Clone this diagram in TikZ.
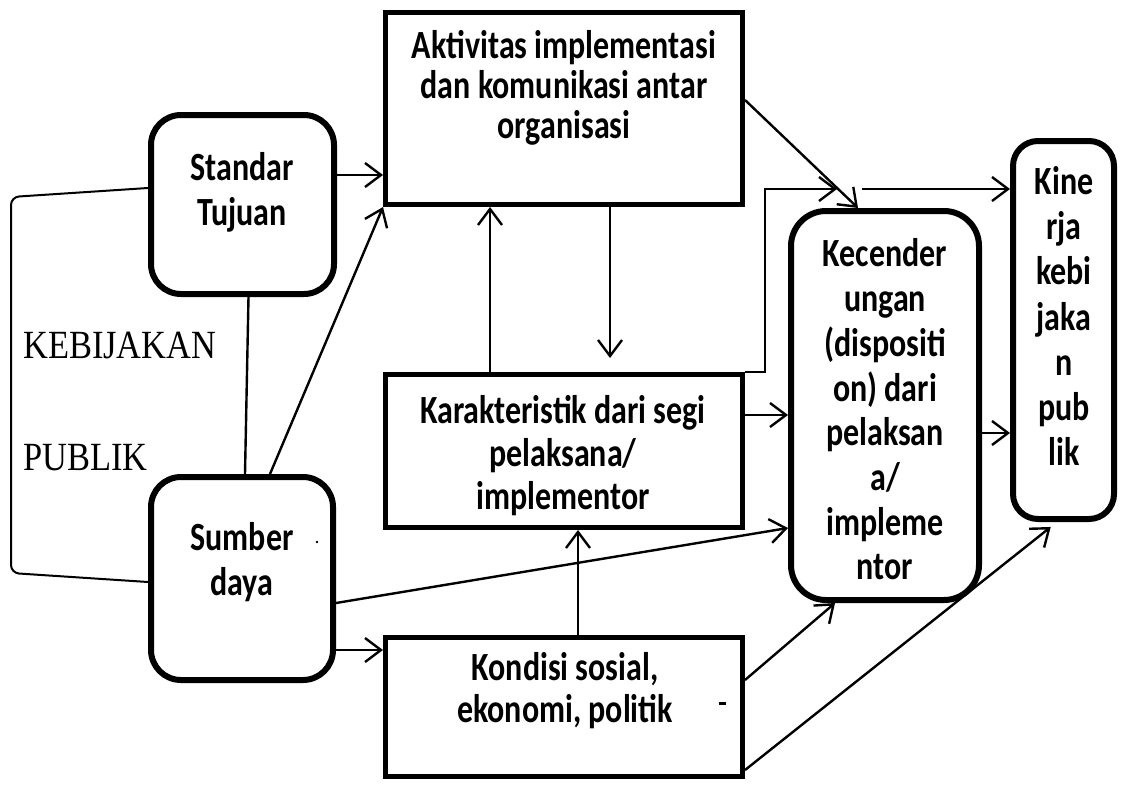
\documentclass[tikz,border=0pt]{standalone}
\usepackage{fontspec}
\setmainfont{Carlito}[FakeStretch=0.8]
\newfontfamily\kebfont{Liberation Serif}[FakeStretch=0.86]
\usetikzlibrary{arrows.meta,calc}
\begin{document}
\begin{tikzpicture}[x=1pt,y=-1pt,
  rbox/.style={draw, line width=5pt, inner sep=0pt},
  rndbox/.style={draw, line width=6pt, rounded corners=30pt, inner sep=0pt},
  lbl/.style={align=center, inner sep=0pt, font=\bfseries\fontsize{40}{45}\selectfont},
  arr/.style={line width=2.4pt, -{Straight Barb[length=16pt,width=24pt]}},
  conn/.style={line width=2.4pt},
  brk/.style={line width=2pt, rounded corners=8pt}]
\useasboundingbox (0,0) rectangle (1121,784);

% boxes
\node[rbox, minimum width=357pt, minimum height=192pt] (akt) at (564,108.5) {};
\node[rndbox, minimum width=183pt, minimum height=179pt] (std) at (242.5,204.5) {};
\node[rndbox, minimum width=182pt, minimum height=203pt] (sum) at (242,578.5) {};
\node[rbox, minimum width=357pt, minimum height=153pt] (kar) at (564,451) {};
\node[rbox, minimum width=357pt, minimum height=139pt] (kon) at (564,707) {};
\node[rndbox, rounded corners=35pt, minimum width=188pt, minimum height=389pt] (kec) at (885,405.5) {};
\node[rndbox, rounded corners=25pt, minimum width=101pt, minimum height=378pt] (kin) at (1063.5,330) {};

% texts
\node[lbl, font=\bfseries\fontsize{40}{40}\selectfont] (akttxt) at (564,88) {Aktivitas implementasi\\dan komunikasi antar\\organisasi};
\node[lbl] (stdtxt) at (242,192) {Standar\\Tujuan};
\node[lbl] (sumtxt) at (242,562) {Sumber\\daya};
\node[lbl, font=\bfseries\fontsize{40}{43}\selectfont] (kartxt) at (563,456) {Karakteristik dari segi\\pelaksana/\\implementor};
\node[lbl, font=\bfseries\fontsize{40}{42}\selectfont] (kontxt) at (565,691) {Kondisi sosial,\\ekonomi, politik};
\node[lbl, font=\bfseries\fontsize{40}{44.7}\selectfont] (kectxt) at (885,409.5) {Kecender\\ungan\\(dispositi\\on) dari\\pelaksan\\a/\\impleme\\ntor};
\node[lbl, font=\bfseries\fontsize{40}{45.3}\selectfont] (kintxt) at (1064,316) {Kine\\rja\\kebi\\jaka\\n\\pub\\lik};
\node[inner sep=0pt, anchor=west, font=\kebfont\fontsize{40}{40}\selectfont] (keb) at (23,345) {KEBIJAKAN};
\node[inner sep=0pt, anchor=west, font=\kebfont\fontsize{40}{40}\selectfont] (pub) at (23,458) {PUBLIK};

% stray marks
\fill (317,542) circle (1.3pt);
\fill (719,702) rectangle (726,705);

% helper coordinates
\coordinate (s1) at ([yshift=29.5pt]std.east);
\coordinate (k1) at ([xshift=-74pt]kar.north);
\coordinate (a1) at ([xshift=46pt]akt.south);
\coordinate (n1) at ([xshift=14pt]kon.north);
\coordinate (r1) at ([yshift=36pt]kar.east);
\coordinate (e1) at ([yshift=-27.5pt]kec.east);
\coordinate (m1) at ([yshift=-71.5pt]sum.east);
\coordinate (t1) at (837,189);
\coordinate (t2) at (862,189);

% connectors
\draw[arr] (s1) -- (s1 -| akt.west);
\draw[arr] ([xshift=28pt]sum.north) -- (akt.south west);
\draw[conn] ([xshift=6pt]std.south) -- ([xshift=3pt]sum.north);
\draw[brk] ([yshift=16.5pt]std.west) -- (11,197) -- (11,573) -- ([yshift=-3.5pt]sum.west);
\draw[arr] (k1) -- (k1 |- akt.south);
\draw[arr, shorten >=14pt] (a1) -- (a1 |- kar.north);
\draw[arr] (n1) -- (n1 |- kar.south);
\draw[arr] (r1) -- (r1 -| kec.west);
\draw[arr] (kar.north east) -- ++(20,0) |- (t1);
\draw[arr] ([yshift=8.5pt]akt.east) -- ([xshift=-27pt]kec.north);
\draw[arr] (t2) -- (t2 -| kin.west);
\draw[arr] (e1) -- (e1 -| kin.west);
\draw[arr] ([yshift=-24.5pt]sum.east) -- ([yshift=-122.5pt]kec.west);
\draw[arr] (m1) -- (m1 -| kon.west);
\draw[arr] ([yshift=27pt]kon.east) -- ([xshift=-50pt]kec.south);
\draw[arr, shorten >=8pt] ([yshift=-63pt]kon.east) -- ([xshift=-6.5pt]kin.south);
\end{tikzpicture}
\end{document}
